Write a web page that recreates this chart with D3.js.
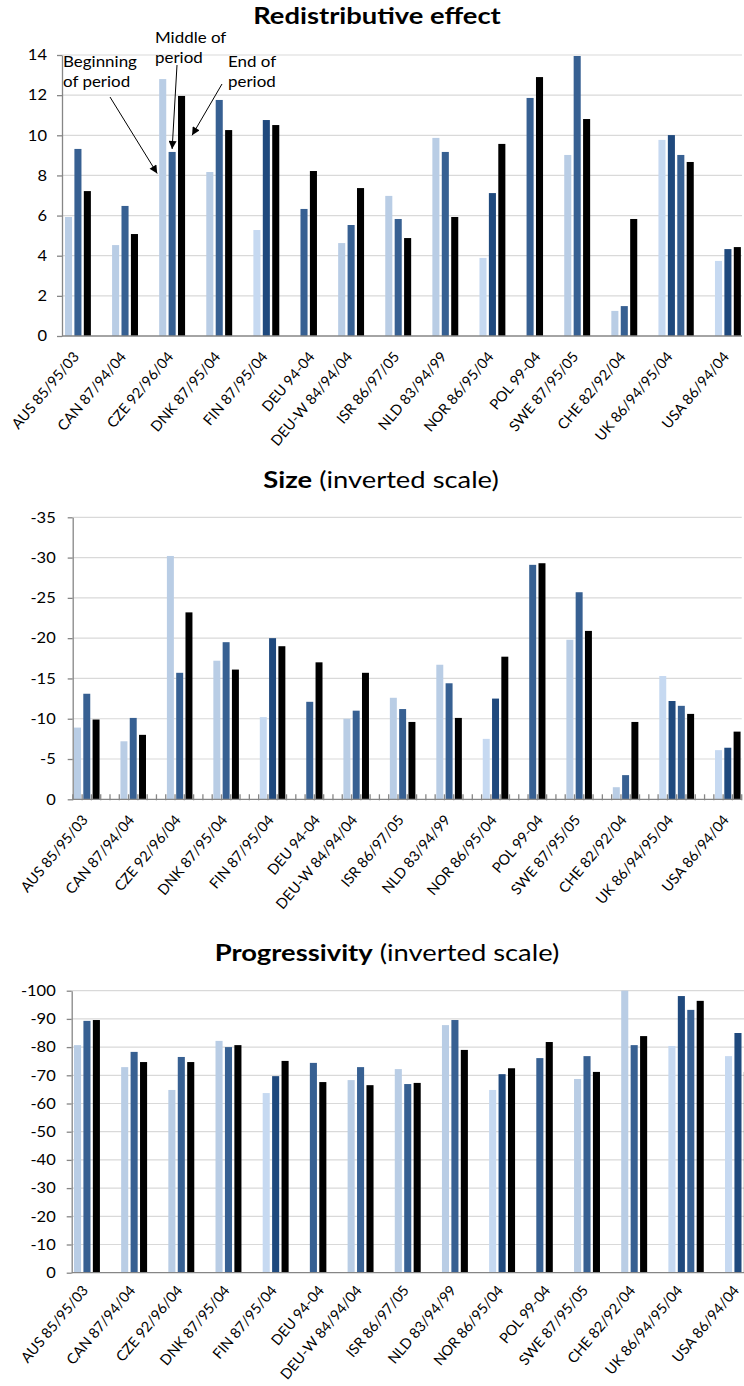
<!DOCTYPE html>
<html><head><meta charset="utf-8">
<script src="https://cdn.jsdelivr.net/npm/d3@7"></script>
<style>body{margin:0;background:#fff;} svg{display:block;}</style>
</head><body>
<svg id="c" width="744" height="1386"></svg>
<script>
// ---------------- DATA ----------------
const categories = ["AUS 85/95/03","CAN 87/94/04","CZE 92/96/04","DNK 87/95/04","FIN 87/95/04","DEU 94-04","DEU-W 84/94/04","ISR 86/97/05","NLD 83/94/99","NOR 86/95/04","POL 99-04","SWE 87/95/05","CHE 82/92/04","UK 86/94/95/04","USA 86/94/04"];
const seriesKeys = ["begin","middle","middle2","end"];

const redistBegin   = [5.93, 4.53, 12.8, 8.17, 5.28, null, 4.63, 6.98, 9.87, 3.89, null, 9.02, 1.25, 9.77, 3.74];
const redistMiddle  = [9.32, 6.48, 9.17, 11.76, 10.76, 6.33, 5.53, 5.83, 9.17, 7.12, 11.86, 13.95, 1.49, 10.01, 4.33];
const redistMiddle2 = [null, null, null, null, null, null, null, null, null, null, null, null, null, 9.02, null];
const redistEnd     = [7.22, 5.08, 11.96, 10.26, 10.51, 8.22, 7.37, 4.88, 5.93, 9.57, 12.9, 10.81, 5.83, 8.67, 4.43];

const sizeBegin   = [-8.9, -7.2, -30.2, -17.2, -10.2, null, -10.0, -12.6, -16.7, -7.5, null, -19.8, -1.5, -15.3, -6.1];
const sizeMiddle  = [-13.1, -10.1, -15.7, -19.5, -20.0, -12.1, -11.0, -11.2, -14.4, -12.5, -29.1, -25.7, -3.0, -12.2, -6.4];
const sizeMiddle2 = [null, null, null, null, null, null, null, null, null, null, null, null, null, -11.6, null];
const sizeEnd     = [-9.9, -8.0, -23.2, -16.1, -19.0, -17.0, -15.7, -9.6, -10.1, -17.7, -29.3, -20.9, -9.6, -10.6, -8.4];

const progBegin   = [-80.7, -72.9, -64.8, -82.2, -63.7, null, -68.3, -72.2, -87.8, -64.8, null, -68.7, -100, -80.4, -76.8];
const progMiddle  = [-89.3, -78.3, -76.5, -80.0, -69.7, -74.4, -72.9, -66.9, -89.6, -70.4, -76.1, -76.8, -80.7, -98.1, -85.0];
const progMiddle2 = [null, null, null, null, null, null, null, null, null, null, null, null, null, -93.2, null];
const progEnd     = [-89.6, -74.7, -74.7, -80.7, -75.1, -67.6, -66.5, -67.3, -79.0, -72.5, -81.8, -71.2, -83.9, -96.4, -71.2];

const redistTicks = [0, 2, 4, 6, 8, 10, 12, 14];
const sizeTicks   = [0, -5, -10, -15, -20, -25, -30, -35];
const progTicks   = [0, -10, -20, -30, -40, -50, -60, -70, -80, -90, -100];

const annotationTexts = [["Beginning", "of period"], ["Middle of", "period"], ["End of", "period"]];

// ---------------- STYLE ----------------
const FONT = "Lato, 'Open Sans', sans-serif";
const altShade = new Set(["FIN", "NOR", "UK", "USA"]);
function barColor(d) {
  const alt = altShade.has(categories[d.cat].split(" ")[0]);
  if (d.series === "begin") return alt ? "#c6d9f1" : "#b9cde5";
  if (d.series === "middle") return alt ? "#1f497d" : "#376092";
  if (d.series === "middle2") return "#376092";
  return "#000000";
}

const svg = d3.select("#c");
const defs = svg.append("defs");
defs.append("marker").attr("id", "ah").attr("viewBox", "0 0 10 10").attr("refX", 10).attr("refY", 5)
  .attr("markerWidth", 9).attr("markerHeight", 8).attr("markerUnits", "userSpaceOnUse").attr("orient", "auto")
  .append("path").attr("d", "M0,0 L10,5 L0,10 z").attr("fill", "#000");

function buildSlots(series) {
  const slots = [];
  categories.forEach((c, i) => {
    let n = 0;
    seriesKeys.forEach((s, si) => {
      const v = series[si][i];
      if (v !== null && v !== undefined) {
        slots.push({ key: `${i}-${s}`, cat: i, series: s, value: v, idx: n++ });
      }
    });
    if (i < categories.length - 1) {
      slots.push({ key: `sep${i}a`, sep: true });
      slots.push({ key: `sep${i}b`, sep: true });
    }
  });
  return slots;
}

function drawChart(cfg) {
  const g = svg.append("g");
  const slots = buildSlots(cfg.series);
  const x = d3.scaleBand().domain(slots.map(s => s.key))
    .range([cfg.x0, cfg.x0 + cfg.step * slots.length])
    .paddingInner(0.25).paddingOuter(0.125);
  const xEnd = x.range()[1];
  const y = d3.scaleLinear().domain([0, cfg.ticks[cfg.ticks.length - 1]]).range([cfg.yZero, cfg.yTop]);

  g.append("g").selectAll("line").data(cfg.ticks.filter(t => t !== 0)).join("line")
    .attr("x1", cfg.axisX).attr("x2", xEnd)
    .attr("y1", d => y(d)).attr("y2", d => y(d))
    .attr("stroke", "#d9d9d9").attr("stroke-width", 1.2);

  const bars = slots.filter(s => !s.sep);
  g.append("g").selectAll("rect").data(bars).join("rect")
    .attr("x", d => x(d.key)).attr("width", x.bandwidth())
    .attr("y", d => y(d.value)).attr("height", d => y(0) - y(d.value))
    .attr("fill", d => barColor(d));

  const yAxis = d3.axisLeft(y).tickValues(cfg.ticks).tickSizeInner(5).tickSizeOuter(0)
    .tickPadding(cfg.tickPad).tickFormat(d => String(d));
  const ya = g.append("g").attr("transform", `translate(${cfg.axisX},0)`).call(yAxis);
  ya.select(".domain").attr("stroke", "#868686").attr("stroke-width", 1.3);
  ya.selectAll(".tick line").attr("stroke", "#868686").attr("stroke-width", 1.3);
  ya.selectAll(".tick text").attr("font-family", FONT).attr("font-size", cfg.tickFont).attr("fill", "#000")
    .each(function () {
      const xx = +this.getAttribute("x");
      d3.select(this).attr("x", 0).attr("transform", `translate(${xx},0) scale(1.1,1)`);
    });

  g.append("line").attr("x1", cfg.axisX).attr("x2", xEnd).attr("y1", y(0)).attr("y2", y(0))
    .attr("stroke", "#868686").attr("stroke-width", 1.3);
  if (cfg.xTicks) {
    const half = x.step() * x.paddingInner() / 2;
    const bounds = slots.map(s => x(s.key) - half).concat([x(slots[slots.length - 1].key) + x.bandwidth() + half]);
    g.append("g").selectAll("line").data(bounds).join("line")
      .attr("x1", d => d).attr("x2", d => d).attr("y1", y(0) - 5).attr("y2", y(0) + 1)
      .attr("stroke", "#868686").attr("stroke-width", 1.3);
  }

  const labelSlots = bars.filter(b => b.idx === 1);
  g.append("g").selectAll("text").data(labelSlots).join("text")
    .attr("transform", d => `translate(${x(d.key) + x.bandwidth() / 2 + cfg.labDx},${y(0) + cfg.labDy}) rotate(-50)`)
    .attr("text-anchor", "end").attr("font-family", FONT).attr("font-size", 14.5).attr("fill", "#000")
    .text(d => categories[d.cat]);

  const t = svg.append("text").attr("transform", `translate(${cfg.titleX},${cfg.titleY}) scale(1.19,1)`)
    .attr("text-anchor", "middle")
    .attr("font-family", FONT).attr("font-size", 23).attr("fill", "#000");
  t.append("tspan").attr("font-weight", "bold").text(cfg.titleBold);
  if (cfg.titleRest) t.append("tspan").text(cfg.titleRest);

  return { x, y, slots };
}

const chartTop = drawChart({
  series: [redistBegin, redistMiddle, redistMiddle2, redistEnd], ticks: redistTicks,
  x0: 63.8, step: 9.42, axisX: 62, yZero: 336, yTop: 55, tickPad: 10, tickFont: 15,
  labDx: 2, labDy: 21, titleX: 377, titleY: 24, titleBold: "Redistributive effect", titleRest: null
});
drawChart({
  series: [sizeBegin, sizeMiddle, sizeMiddle2, sizeEnd], ticks: sizeTicks,
  x0: 72.84, step: 9.29, axisX: 72.7, yZero: 799.3, yTop: 517.3, tickPad: 12, tickFont: 15, xTicks: true,
  labDx: 2, labDy: 21, titleX: 381, titleY: 488, titleBold: "Size", titleRest: " (inverted scale)"
});
drawChart({
  series: [progBegin, progMiddle, progMiddle2, progEnd], ticks: progTicks,
  x0: 72.8, step: 9.435, axisX: 71.7, yZero: 1272.7, yTop: 990.7, tickPad: 11, tickFont: 15,
  labDx: 2, labDy: 18, titleX: 387, titleY: 961, titleBold: "Progressivity", titleRest: " (inverted scale)"
});

const ann = svg.append("g").attr("font-family", FONT).attr("font-size", 15).attr("fill", "#000");
const annPos = [[63, 67], [155, 43], [228, 67]];
annotationTexts.forEach((lines, i) => {
  const tx = ann.append("text").attr("transform", `translate(${annPos[i][0]},${annPos[i][1]}) scale(1.13,1)`);
  lines.forEach((l, j) => tx.append("tspan").attr("x", 0).attr("dy", j === 0 ? 0 : 20.5).text(l));
});
const cz = categories.indexOf("CZE 92/96/04");
const bw = chartTop.x.bandwidth();
const xB = chartTop.x(`${cz}-begin`), xM = chartTop.x(`${cz}-middle`), xE = chartTop.x(`${cz}-end`);
const arrows = [
  { from: [110, 97], to: [xB - 2, chartTop.y(8.1)] },
  { from: [177, 65], to: [xM + bw / 2, chartTop.y(redistMiddle[cz]) - 3] },
  { from: [222, 84], to: [xE + bw + 7, chartTop.y(10)] }
];
svg.append("g").selectAll("line").data(arrows).join("line")
  .attr("x1", d => d.from[0]).attr("y1", d => d.from[1]).attr("x2", d => d.to[0]).attr("y2", d => d.to[1])
  .attr("stroke", "#000").attr("stroke-width", 1).attr("marker-end", "url(#ah)");
</script>
</body></html>
